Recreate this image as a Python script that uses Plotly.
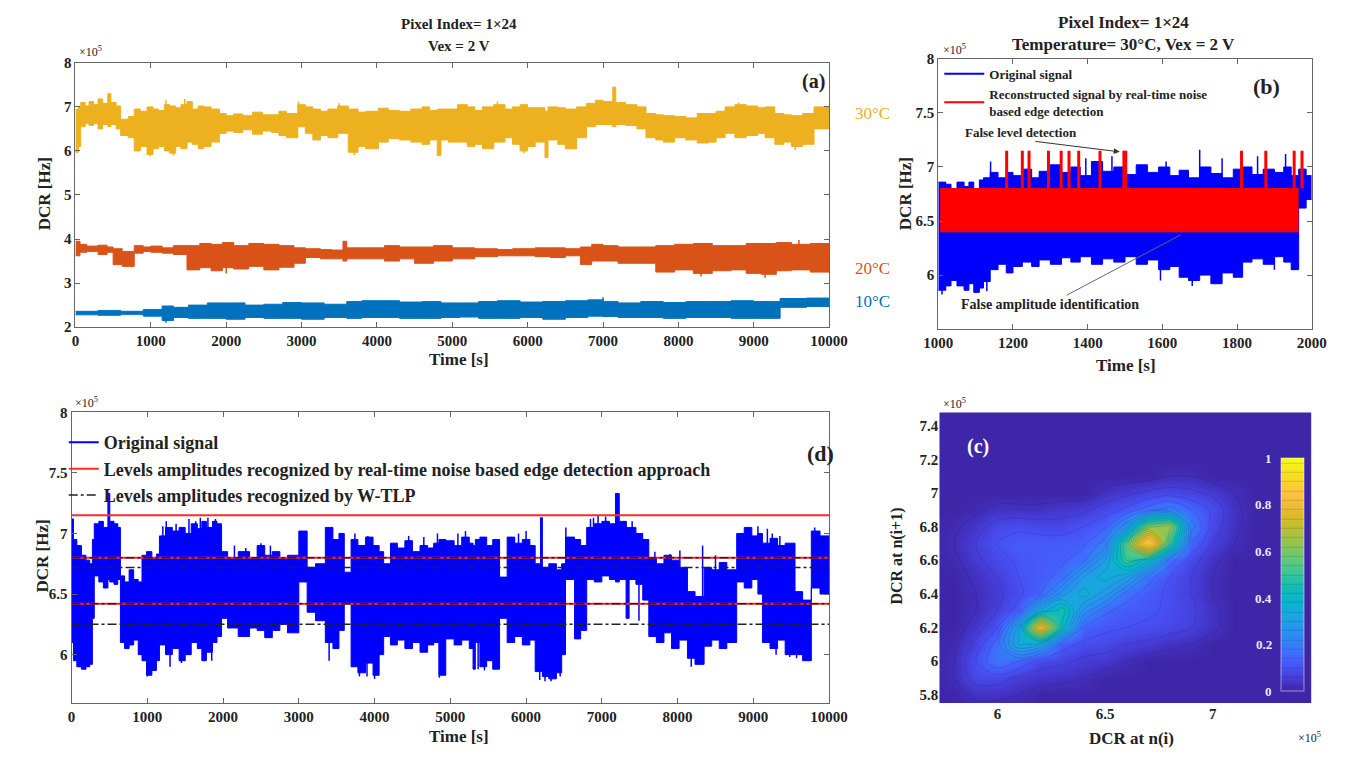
import plotly.graph_objects as go

W, H = 1359, 762
SERIF = "Liberation Serif"

# ---------------------------------------------------------------------------
# Panel (a): DCR vs time for three temperatures (DCR in units of 1e5 Hz).
# Blocks are (start time [s], lower excursion, upper excursion).
# ---------------------------------------------------------------------------
a_30c = [(0, 5.97, 6.94), (40, 6.1, 7.0), (70, 6.55, 7.1), (130, 6.62, 7.02), (180, 6.58, 7.12),
         (240, 6.62, 7.05), (300, 6.5, 7.18), (360, 6.6, 7.08), (430, 6.55, 7.3), (470, 6.6, 7.1),
         (540, 6.5, 7.02), (600, 6.35, 6.72), (700, 6.3, 6.78), (780, 6.0, 6.95), (860, 6.1, 6.9),
         (950, 5.92, 7.0), (1030, 6.05, 6.95), (1100, 6.1, 6.92), (1180, 6.0, 7.05), (1250, 5.95, 7.02),
         (1330, 6.1, 6.98), (1400, 6.05, 7.05), (1480, 6.2, 7.12), (1550, 6.15, 6.95), (1630, 6.05, 7.02),
         (1700, 6.1, 7.0), (1800, 6.2, 6.95), (1910, 6.4, 6.85), (2000, 6.45, 6.8), (2100, 6.42, 6.84),
         (2220, 6.48, 6.8), (2350, 6.38, 6.88), (2480, 6.45, 6.82), (2600, 6.42, 6.82), (2700, 6.35, 6.9),
         (2800, 6.3, 6.85), (2950, 6.55, 7.05), (3050, 6.4, 7.0), (3150, 6.25, 6.95), (3250, 6.35, 6.9),
         (3350, 6.3, 6.95), (3480, 6.4, 7.02), (3620, 5.97, 6.95), (3750, 6.1, 6.88), (3850, 6.05, 6.9),
         (4020, 6.2, 6.97), (4150, 6.28, 6.92), (4300, 6.25, 6.9), (4450, 6.2, 6.95), (4600, 6.15, 7.0),
         (4700, 6.25, 6.92), (4800, 5.9, 6.95), (4850, 6.25, 6.95), (4950, 6.2, 6.95), (5070, 6.2, 7.05),
         (5200, 6.1, 7.0), (5300, 6.15, 6.92), (5400, 6.05, 7.0), (5550, 6.2, 7.05), (5700, 6.3, 6.95),
         (5800, 6.15, 7.0), (5900, 6.0, 7.05), (6000, 6.1, 6.98), (6100, 6.2, 6.98), (6230, 5.85, 6.9),
         (6270, 6.25, 7.0), (6400, 6.15, 6.98), (6500, 6.05, 6.95), (6650, 6.3, 7.0), (6780, 6.55, 7.08),
         (6900, 6.6, 7.15), (7000, 6.6, 7.12), (7130, 6.55, 7.45), (7170, 6.6, 7.1), (7300, 6.58, 7.05),
         (7450, 6.5, 7.0), (7570, 6.3, 6.85), (7700, 6.25, 6.82), (7800, 6.2, 6.8), (7950, 6.3, 6.78),
         (8100, 6.25, 6.75), (8250, 6.18, 6.85), (8400, 6.2, 6.85), (8500, 6.3, 6.9), (8620, 6.4, 7.0),
         (8750, 6.3, 7.05), (8900, 6.35, 7.02), (9050, 6.4, 6.98), (9150, 6.3, 7.0), (9280, 6.15, 6.85),
         (9400, 6.2, 6.82), (9500, 6.1, 6.8), (9650, 6.15, 6.85), (9800, 6.5, 7.0)]
a_30c_spikes = [(990, 5.88), (1200, 7.15), (1300, 5.9), (1450, 7.18), (2960, 7.12), (3500, 7.08),
                (3700, 5.9), (5600, 7.12), (5950, 5.95), (8800, 7.1), (9550, 6.02)]

a_20c = [(0, 3.62, 3.95), (60, 3.7, 3.88), (150, 3.72, 3.84), (300, 3.65, 3.86), (420, 3.7, 3.82),
         (500, 3.42, 3.78), (620, 3.38, 3.72), (780, 3.68, 3.85), (900, 3.72, 3.82), (1000, 3.7, 3.84),
         (1150, 3.68, 3.8), (1300, 3.65, 3.85), (1480, 3.3, 3.85), (1650, 3.35, 3.9), (1800, 3.28, 3.88),
         (1950, 3.35, 3.92), (2100, 3.32, 3.85), (2300, 3.38, 3.9), (2500, 3.3, 3.88), (2700, 3.36, 3.85),
         (2900, 3.45, 3.8), (3050, 3.58, 3.78), (3250, 3.55, 3.76), (3400, 3.55, 3.75), (3550, 3.5, 3.95),
         (3600, 3.55, 3.8), (3800, 3.55, 3.8), (4100, 3.5, 3.85), (4300, 3.55, 3.82), (4500, 3.45, 3.82),
         (4750, 3.5, 3.85), (5000, 3.55, 3.8), (5300, 3.6, 3.78), (5600, 3.62, 3.76), (5800, 3.62, 3.78),
         (6100, 3.6, 3.8), (6300, 3.58, 3.8), (6500, 3.62, 3.78), (6700, 3.42, 3.82), (6850, 3.5, 3.88),
         (7000, 3.5, 3.85), (7200, 3.45, 3.82), (7400, 3.45, 3.82), (7700, 3.25, 3.85), (7950, 3.3, 3.88),
         (8200, 3.22, 3.9), (8450, 3.28, 3.85), (8700, 3.3, 3.85), (8900, 3.22, 3.9), (9100, 3.2, 3.9),
         (9300, 3.28, 3.92), (9500, 3.3, 3.88), (9750, 3.25, 3.9)]
a_20c_spikes = [(2000, 3.22), (8300, 3.15), (9150, 3.12), (9600, 3.98)]

a_10c = [(0, 2.28, 2.36), (300, 2.27, 2.38), (600, 2.29, 2.36), (900, 2.25, 2.4), (1150, 2.15, 2.48),
         (1300, 2.22, 2.45), (1500, 2.2, 2.5), (1750, 2.2, 2.55), (2000, 2.18, 2.55), (2250, 2.22, 2.5),
         (2500, 2.2, 2.52), (2750, 2.2, 2.56), (3000, 2.18, 2.55), (3300, 2.22, 2.52), (3600, 2.2, 2.58),
         (3800, 2.22, 2.6), (4000, 2.22, 2.6), (4300, 2.2, 2.57), (4600, 2.2, 2.58), (4850, 2.22, 2.55),
         (5100, 2.23, 2.55), (5350, 2.2, 2.58), (5600, 2.2, 2.6), (5900, 2.22, 2.57), (6200, 2.18, 2.58),
         (6500, 2.22, 2.6), (6800, 2.25, 2.62), (7000, 2.24, 2.58), (7200, 2.22, 2.55), (7500, 2.22, 2.58),
         (7800, 2.2, 2.56), (8100, 2.22, 2.58), (8400, 2.22, 2.58), (8700, 2.2, 2.6), (9000, 2.2, 2.58),
         (9350, 2.45, 2.65), (9700, 2.47, 2.66)]
a_10c_spikes = [(1200, 2.1), (7000, 2.68)]

# ---------------------------------------------------------------------------
# Panel (b): 1000-2000 s at 30 degC
# ---------------------------------------------------------------------------
b_orig = [(1000, 5.86, 6.86), (1020, 5.9, 6.84), (1034, 5.95, 6.8), (1050, 5.9, 6.86), (1069, 5.86, 6.82),
          (1082, 5.92, 6.86), (1095, 5.84, 6.8), (1110, 5.88, 6.88), (1121, 5.94, 6.9), (1139, 6.05, 6.95),
          (1160, 6.1, 6.9), (1182, 6.02, 6.95), (1200, 6.08, 6.92), (1225, 6.12, 6.98), (1250, 6.08, 6.9),
          (1270, 6.14, 6.96), (1300, 6.1, 7.02), (1330, 6.16, 6.95), (1355, 6.12, 7.0), (1380, 6.17, 6.92),
          (1410, 6.1, 7.05), (1440, 6.15, 6.96), (1470, 6.12, 7.0), (1500, 6.17, 6.93), (1530, 6.1, 7.02),
          (1560, 6.14, 6.95), (1590, 6.05, 7.0), (1620, 6.08, 6.92), (1645, 5.98, 6.97), (1670, 5.95, 6.9),
          (1700, 6.0, 7.0), (1730, 5.92, 6.94), (1760, 6.02, 6.9), (1790, 5.98, 6.98), (1815, 6.12, 7.0),
          (1840, 6.15, 6.93), (1870, 6.1, 6.98), (1900, 6.17, 6.95), (1925, 6.12, 7.0), (1945, 6.05, 6.92),
          (1965, 6.62, 6.98), (1985, 6.7, 6.92)]
b_orig_spikes = [(1010, 5.82), (1130, 5.85), (1140, 7.05), (1395, 7.08), (1465, 7.1), (1595, 5.95),
                 (1610, 7.05), (1680, 5.9), (1700, 7.16), (1760, 7.08), (1855, 7.1), (1900, 6.05),
                 (1930, 7.12)]

# reconstructed two-level signal and the spurious third level it picks up
b_levels = [6.4, 6.8]
b_false_level = 7.15
b_red_span = [1005, 1965]
b_red_spike_t = [1183, 1225, 1243, 1295, 1329, 1350, 1376, 1433, 1497, 1502,
                 1812, 1877, 1953, 1974]

# ---------------------------------------------------------------------------
# Panel (d): full record at 30 degC with recognised level amplitudes
# ---------------------------------------------------------------------------
d_orig = [(0, 6.1, 7.12), (25, 5.95, 6.95), (70, 5.9, 6.9), (130, 5.88, 6.82), (190, 5.9, 6.78),
          (240, 5.92, 6.75), (275, 6.3, 6.95),
          (300, 6.65, 7.08), (360, 6.6, 7.1), (420, 6.55, 7.05), (480, 6.62, 7.33), (505, 6.6, 7.1),
          (560, 6.58, 7.08), (610, 6.62, 7.05),
          (645, 6.1, 6.65), (700, 6.05, 6.6), (760, 6.08, 6.7), (820, 6.12, 6.62), (880, 6.0, 6.6),
          (930, 5.95, 6.82), (990, 5.83, 6.85), (1060, 5.87, 6.8), (1120, 5.95, 6.83),
          (1160, 6.08, 6.98), (1240, 6.0, 7.05), (1330, 6.05, 7.02), (1420, 5.95, 7.05), (1500, 6.0, 7.0),
          (1580, 6.1, 7.08), (1660, 6.05, 7.04), (1720, 5.95, 7.1), (1780, 6.02, 7.05), (1860, 6.1, 7.1),
          (1920, 6.15, 7.08),
          (1980, 6.3, 6.85), (2060, 6.22, 6.8), (2200, 6.15, 6.85), (2350, 6.22, 6.8), (2450, 6.2, 6.9),
          (2550, 6.14, 6.82), (2650, 6.2, 6.85), (2750, 6.25, 6.8), (2850, 6.18, 6.82),
          (3000, 6.6, 7.02), (3110, 6.35, 6.72), (3220, 6.28, 6.75),
          (3350, 6.1, 7.05), (3450, 6.05, 6.95), (3530, 6.2, 7.0), (3600, 6.42, 6.68),
          (3690, 5.9, 6.95), (3780, 5.85, 6.9), (3880, 5.93, 6.97), (3980, 5.83, 6.9), (4060, 6.0, 6.85),
          (4120, 6.15, 6.75),
          (4210, 6.08, 6.92), (4300, 6.12, 6.88), (4400, 6.05, 6.94), (4500, 6.1, 6.85), (4600, 6.02, 6.9),
          (4700, 6.08, 6.88), (4780, 6.1, 6.92), (4850, 5.83, 6.95),
          (4940, 6.13, 6.94), (5050, 6.08, 6.9), (5150, 6.12, 6.97), (5250, 6.05, 6.92), (5300, 5.88, 6.9),
          (5330, 6.1, 6.95),
          (5390, 5.9, 6.97), (5480, 5.95, 6.9), (5560, 5.88, 6.95), (5650, 6.3, 6.64),
          (5750, 6.1, 6.97), (5850, 6.15, 6.92), (5950, 6.08, 6.95), (6050, 6.12, 6.9),
          (6120, 5.86, 6.75), (6190, 5.86, 7.13), (6215, 5.82, 6.72), (6300, 5.8, 6.75), (6400, 5.85, 6.7),
          (6470, 6.0, 6.75),
          (6520, 6.62, 6.97), (6640, 6.13, 6.95), (6720, 6.2, 6.9),
          (6800, 6.62, 7.05), (6900, 6.6, 7.08), (7000, 6.65, 7.1), (7100, 6.62, 7.08), (7180, 6.6, 7.33),
          (7230, 6.62, 7.1), (7320, 6.3, 7.05), (7360, 6.62, 7.05), (7450, 6.58, 7.0), (7540, 6.45, 6.95),
          (7620, 6.15, 6.8), (7720, 6.1, 6.75), (7820, 6.18, 6.82), (7920, 6.05, 6.78), (8020, 6.12, 6.72),
          (8130, 5.97, 6.52), (8230, 5.92, 6.48),
          (8350, 6.07, 6.72), (8450, 6.12, 6.7), (8550, 6.05, 6.76), (8650, 6.1, 6.7),
          (8780, 6.6, 7.0), (8880, 6.55, 7.05), (8980, 6.62, 6.98), (9060, 6.5, 7.0),
          (9120, 6.1, 6.92), (9220, 6.05, 6.96), (9320, 6.12, 6.9), (9420, 6.0, 6.92),
          (9550, 6.0, 6.52), (9650, 5.95, 6.45),
          (9765, 6.55, 7.02), (9880, 6.5, 6.98)]
d_orig_spikes = [(1000, 5.82), (1205, 7.06), (1250, 7.1), (1300, 5.9), (1380, 7.08), (1450, 5.93),
                 (1550, 7.12), (1640, 7.1), (1700, 7.13), (1800, 7.13), (1850, 5.95), (1900, 7.12),
                 (2150, 6.9), (2300, 6.88), (2500, 6.92), (2625, 6.9), (3400, 5.95), (3740, 7.0),
                 (3800, 5.82), (3900, 5.82), (3910, 6.98), (4000, 5.8), (4300, 6.9), (4450, 6.98),
                 (4650, 6.97), (4830, 7.0), (4855, 5.81), (5100, 7.0), (5200, 7.02), (5367, 5.88),
                 (5450, 5.87), (5580, 5.88), (5900, 7.0), (6000, 7.02), (6180, 5.79), (6250, 5.78),
                 (6330, 5.78), (6450, 5.82), (6525, 7.05), (6850, 7.12), (6890, 7.13), (6950, 7.15),
                 (7050, 7.14), (7320, 7.1), (7400, 7.1), (7490, 6.28), (7700, 6.85), (7900, 6.83),
                 (8030, 6.86), (8180, 5.9), (8285, 5.92), (8330, 6.9), (8500, 6.82), (9060, 7.06),
                 (9185, 7.04), (9250, 7.0), (9300, 6.0), (9350, 6.98), (9480, 5.98), (9570, 5.97),
                 (9810, 7.05)]
d_levels_edge = [7.15, 6.8, 6.42]
d_levels_wtlp = [6.8, 6.72, 6.42, 6.25]

# ---------------------------------------------------------------------------
# Panel (c): normalised lag-plot density, DCR(i) vs DCR(i+1), 1e5 Hz units
# ---------------------------------------------------------------------------
c_axis = [5.7, 5.8, 5.9, 6.0, 6.1, 6.2, 6.3, 6.4, 6.5, 6.6, 6.7, 6.8, 6.9, 7.0,
          7.1, 7.2, 7.3, 7.4, 7.5]
c_density = [
    [0, 0, 0, 0, 0, 0, 0, 0, 0, 0, 0, 0, 0, 0, 0, 0, 0, 0, 0],
    [0, 0, 0.03, 0.03, 0.02, 0, 0, 0, 0, 0, 0, 0, 0, 0, 0, 0, 0, 0, 0],
    [0, 0.02, 0.08, 0.08, 0.05, 0.04, 0.03, 0.02, 0, 0, 0, 0, 0, 0, 0, 0, 0, 0, 0],
    [0, 0.02, 0.1, 0.18, 0.14, 0.08, 0.07, 0.05, 0.04, 0.02, 0, 0, 0, 0, 0, 0, 0, 0, 0],
    [0, 0.01, 0.07, 0.16, 0.35, 0.3, 0.12, 0.09, 0.08, 0.06, 0.05, 0.03, 0.02, 0, 0, 0, 0, 0, 0],
    [0, 0, 0.04, 0.1, 0.32, 0.85, 0.4, 0.14, 0.11, 0.1, 0.09, 0.08, 0.06, 0.03, 0, 0, 0, 0, 0],
    [0, 0, 0.02, 0.06, 0.12, 0.35, 0.45, 0.25, 0.15, 0.12, 0.11, 0.09, 0.07, 0.03, 0, 0, 0, 0, 0],
    [0, 0, 0.02, 0.05, 0.09, 0.14, 0.28, 0.36, 0.28, 0.16, 0.12, 0.09, 0.06, 0.02, 0, 0, 0, 0, 0],
    [0, 0, 0.03, 0.06, 0.1, 0.12, 0.16, 0.3, 0.36, 0.3, 0.16, 0.1, 0.06, 0.02, 0, 0, 0, 0, 0],
    [0, 0.01, 0.05, 0.08, 0.11, 0.12, 0.13, 0.17, 0.3, 0.5, 0.4, 0.16, 0.08, 0.03, 0, 0, 0, 0, 0],
    [0, 0.02, 0.06, 0.1, 0.12, 0.12, 0.12, 0.13, 0.2, 0.55, 0.95, 0.5, 0.14, 0.06, 0.02, 0, 0, 0, 0],
    [0, 0.01, 0.04, 0.08, 0.09, 0.08, 0.08, 0.1, 0.13, 0.25, 0.6, 0.65, 0.2, 0.08, 0.03, 0, 0, 0, 0],
    [0, 0, 0.01, 0.03, 0.03, 0.03, 0.04, 0.05, 0.08, 0.11, 0.16, 0.2, 0.14, 0.09, 0.03, 0, 0, 0, 0],
    [0, 0, 0, 0, 0, 0, 0, 0, 0.03, 0.05, 0.07, 0.08, 0.07, 0.05, 0.02, 0, 0, 0, 0],
    [0, 0, 0, 0, 0, 0, 0, 0, 0, 0, 0, 0.02, 0.02, 0, 0, 0, 0, 0, 0],
    [0, 0, 0, 0, 0, 0, 0, 0, 0, 0, 0, 0, 0, 0, 0, 0, 0, 0, 0],
    [0, 0, 0, 0, 0, 0, 0, 0, 0, 0, 0, 0, 0, 0, 0, 0, 0, 0, 0],
    [0, 0, 0, 0, 0, 0, 0, 0, 0, 0, 0, 0, 0, 0, 0, 0, 0, 0, 0],
    [0, 0, 0, 0, 0, 0, 0, 0, 0, 0, 0, 0, 0, 0, 0, 0, 0, 0, 0],
]
c_cbar_ticks = [0, 0.2, 0.4, 0.6, 0.8, 1]

PARULA = [
    [0.00, "rgb(62,38,168)"], [0.05, "rgb(70,59,213)"], [0.10, "rgb(71,81,244)"],
    [0.15, "rgb(66,105,253)"], [0.20, "rgb(50,128,248)"], [0.25, "rgb(41,144,238)"],
    [0.30, "rgb(32,159,229)"], [0.35, "rgb(18,173,217)"], [0.40, "rgb(7,183,198)"],
    [0.45, "rgb(20,190,177)"], [0.50, "rgb(54,197,154)"], [0.55, "rgb(89,201,126)"],
    [0.60, "rgb(124,199,98)"], [0.65, "rgb(158,195,71)"], [0.70, "rgb(190,191,48)"],
    [0.75, "rgb(217,187,38)"], [0.80, "rgb(242,186,59)"], [0.85, "rgb(253,195,56)"],
    [0.90, "rgb(248,215,40)"], [0.95, "rgb(245,232,28)"], [1.00, "rgb(249,251,21)"],
]

C30, C20, C10 = "#EDB120", "#D95319", "#0072BD"
BLUE, RED = "#0000FF", "#FF0000"

fig = go.Figure()


def px(x, y):
    return x / W, 1 - y / H


def add_band(blocks, t_end, color, xa, ya):
    xs = [b[0] for b in blocks] + [t_end]
    ylo = [b[1] for b in blocks] + [blocks[-1][1]]
    yhi = [b[2] for b in blocks] + [blocks[-1][2]]
    fig.add_trace(go.Scatter(x=xs, y=ylo, mode="lines", xaxis=xa, yaxis=ya,
                             line=dict(color=color, width=1, shape="hv"),
                             showlegend=False, hoverinfo="skip"))
    fig.add_trace(go.Scatter(x=xs, y=yhi, mode="lines", xaxis=xa, yaxis=ya,
                             line=dict(color=color, width=1, shape="hv"),
                             fill="tonexty", fillcolor=color,
                             showlegend=False, hoverinfo="skip"))


def band_mid(blocks, t):
    cur = blocks[0]
    for b in blocks:
        if b[0] <= t:
            cur = b
    return (cur[1] + cur[2]) / 2


def add_spikes(blocks, spikes, color, width, xa, ya):
    xs, ys = [], []
    for t, v in spikes:
        xs += [t, t, None]
        ys += [band_mid(blocks, t), v, None]
    fig.add_trace(go.Scatter(x=xs, y=ys, mode="lines", xaxis=xa, yaxis=ya,
                             line=dict(color=color, width=width),
                             showlegend=False, hoverinfo="skip"))


# ---- (a)
add_band(a_30c, 10000, C30, "x", "y")
add_spikes(a_30c, a_30c_spikes, C30, 1.5, "x", "y")
add_band(a_20c, 10000, C20, "x", "y")
add_spikes(a_20c, a_20c_spikes, C20, 1.5, "x", "y")
add_band(a_10c, 10000, C10, "x", "y")
add_spikes(a_10c, a_10c_spikes, C10, 1.5, "x", "y")

# ---- (b)
fig.add_trace(go.Scatter(x=[None], y=[None], mode="lines", xaxis="x2", yaxis="y2",
                         line=dict(color=BLUE, width=2), name="Original signal", legend="legend"))
fig.add_trace(go.Scatter(x=[None], y=[None], mode="lines", xaxis="x2", yaxis="y2",
                         line=dict(color=RED, width=2),
                         name="Reconstructed signal by real-time noise<br>based edge detection",
                         legend="legend"))
add_band(b_orig, 2000, BLUE, "x2", "y2")
add_spikes(b_orig, b_orig_spikes, BLUE, 1.5, "x2", "y2")
fig.add_trace(go.Scatter(x=b_red_span, y=[b_levels[0]] * 2, mode="lines", xaxis="x2", yaxis="y2",
                         line=dict(color=RED, width=1), showlegend=False, hoverinfo="skip"))
fig.add_trace(go.Scatter(x=b_red_span, y=[b_levels[1]] * 2, mode="lines", xaxis="x2", yaxis="y2",
                         line=dict(color=RED, width=1), fill="tonexty", fillcolor=RED,
                         showlegend=False, hoverinfo="skip"))
rx, ry = [], []
for t in b_red_spike_t:
    rx += [t, t, None]
    ry += [b_levels[1], b_false_level, None]
fig.add_trace(go.Scatter(x=rx, y=ry, mode="lines", xaxis="x2", yaxis="y2",
                         line=dict(color=RED, width=3), showlegend=False, hoverinfo="skip"))

# ---- (d)
fig.add_trace(go.Scatter(x=[None], y=[None], mode="lines", xaxis="x3", yaxis="y3",
                         line=dict(color=BLUE, width=2), name="Original signal", legend="legend2"))
add_band(d_orig, 10000, BLUE, "x3", "y3")
add_spikes(d_orig, d_orig_spikes, BLUE, 1.5, "x3", "y3")
lx, ly = [], []
for v in d_levels_edge:
    lx += [0, 10000, None]
    ly += [v, v, None]
fig.add_trace(go.Scatter(x=lx, y=ly, mode="lines", xaxis="x3", yaxis="y3",
                         line=dict(color="#FF2A2A", width=2), legend="legend2",
                         name="Levels amplitudes recognized by real-time noise based edge detection approach"))
wx, wy = [], []
for v in d_levels_wtlp:
    wx += [0, 10000, None]
    wy += [v, v, None]
fig.add_trace(go.Scatter(x=wx, y=wy, mode="lines", xaxis="x3", yaxis="y3",
                         line=dict(color="#222222", width=1.5, dash="dashdot"), legend="legend2",
                         name="Levels amplitudes recognized by W-TLP"))

# ---- (c)
cb_top, cb_bot = 460, 698
fig.add_trace(go.Contour(
    x=c_axis, y=c_axis, z=c_density, xaxis="x4", yaxis="y4",
    colorscale=PARULA, zmin=0, zmax=1,
    contours=dict(coloring="heatmap", start=0.02, end=1.0, size=0.04),
    line=dict(width=0.6, color="rgba(20,20,60,0.25)", smoothing=1.0),
    colorbar=dict(x=1298 / W, xanchor="left", xpad=0, ypad=0, thickness=23,
                  len=(cb_bot - cb_top) / H, lenmode="fraction",
                  y=1 - (cb_top + cb_bot) / 2 / H, yanchor="middle",
                  showticklabels=False, ticks="", outlinewidth=1,
                  outlinecolor="rgba(255,255,255,0.5)"),
    hoverinfo="skip"))

# ---- axes
tickfont = dict(family=SERIF, size=15, color="#222", weight="bold")
box = dict(showline=True, linecolor="#666", linewidth=1, mirror="allticks",
           ticks="inside", ticklen=5, tickcolor="#666", showgrid=False, zeroline=False,
           tickfont=tickfont)
time_ticks = list(range(0, 10001, 1000))

fig.update_layout(
    xaxis=dict(domain=[62 / W, 835 / W], anchor="y", range=[0, 10000], tickvals=time_ticks,
               ticktext=[str(v) for v in time_ticks], **box),
    yaxis=dict(domain=[1 - 326 / H, 1 - 56 / H], anchor="x", range=[2, 8], tickvals=list(range(2, 9)), **box),
    xaxis2=dict(domain=[947 / W, 1330 / W], anchor="y2", range=[1000, 2000],
                tickvals=list(range(1000, 2001, 200)), **box),
    yaxis2=dict(domain=[1 - 328 / H, 1 - 52 / H], anchor="x2", range=[5.5, 8],
                tickvals=[6, 6.5, 7, 7.5, 8], ticktext=["6", "6.5", "7", "7.5", "8"], **box),
    xaxis3=dict(domain=[58 / W, 835 / W], anchor="y3", range=[0, 10000], tickvals=time_ticks,
                ticktext=[str(v) for v in time_ticks], **box),
    yaxis3=dict(domain=[1 - 710 / H, 1 - 413 / H], anchor="x3", range=[5.6, 8],
                tickvals=[6, 6.5, 7, 7.5, 8], ticktext=["6", "6.5", "7", "7.5", "8"], **box),
    xaxis4=dict(domain=[948 / W, 1330 / W], anchor="y4", range=[5.73, 7.46],
                tickvals=[6, 6.5, 7], ticktext=["6", "6.5", "7"], showgrid=False, zeroline=False,
                showline=False, ticks="", tickfont=tickfont),
    yaxis4=dict(domain=[1 - 710 / H, 1 - 413 / H], anchor="x4", range=[5.75, 7.48],
                tickvals=[5.8, 6, 6.2, 6.4, 6.6, 6.8, 7, 7.2, 7.4],
                ticktext=["5.8", "6", "6.2", "6.4", "6.6", "6.8", "7", "7.2", "7.4"],
                showgrid=False, zeroline=False, showline=False, ticks="", tickfont=tickfont),
)

fig.update_layout(
    width=W, height=H, margin=dict(l=0, r=0, t=0, b=0),
    paper_bgcolor="white", plot_bgcolor="white",
    legend=dict(x=948 / W, y=1 - 52 / H, xanchor="left", yanchor="top", traceorder="normal",
                bgcolor="rgba(255,255,255,0)", borderwidth=0, itemwidth=40,
                font=dict(family=SERIF, size=13, color="#222", weight="bold"),
                tracegroupgap=0),
    legend2=dict(x=50 / W, y=1 - 425 / H, xanchor="left", yanchor="top", traceorder="normal",
                 bgcolor="rgba(255,255,255,0)", borderwidth=0, itemwidth=30,
                 font=dict(family=SERIF, size=18, color="#222", weight="bold")),
)

# ---- text
anns = []


def text(x, y, s, size=13, color="#222", bold=True, angle=0, xanchor="center", yanchor="middle"):
    ax, ay = px(x, y)
    anns.append(dict(x=ax, y=ay, xref="paper", yref="paper", text=s, showarrow=False,
                     textangle=angle, xanchor=xanchor, yanchor=yanchor,
                     font=dict(family=SERIF, size=size, color=color,
                               weight="bold" if bold else "normal")))


text(455, 16, "Pixel Index= 1×24", 15)
text(455, 39, "Vex = 2 V", 15)
text(1137, 15, "Pixel Index= 1×24", 17)
text(1137, 37, "Temperature= 30°C, Vex = 2 V", 17)

text(64, 44, "×10<sup>5</sup>", 12, bold=False, xanchor="left")
text(950, 42, "×10<sup>5</sup>", 12, bold=False, xanchor="left")
text(60, 403, "×10<sup>5</sup>", 12, bold=False, xanchor="left")
text(950, 404, "×10<sup>5</sup>", 12, bold=False, xanchor="left")
text(1342, 745, "×10<sup>5</sup>", 12, bold=False, xanchor="right")

text(30, 190, "DCR [Hz]", 17, angle=-90)
text(913, 190, "DCR [Hz]", 17, angle=-90)
text(28, 560, "DCR [Hz]", 17, angle=-90)
text(905, 560, "DCR at n(i+1)", 16, angle=-90)

text(455, 359, "Time [s]", 17)
text(1140, 365, "Time [s]", 17)
text(455, 744, "Time [s]", 17)
text(1145, 746, "DCR at n(i)", 17)

text(819, 75, "(a)", 20)
text(1284, 80, "(b)", 22)
text(826, 455, "(d)", 22)
text(988, 448, "(c)", 20, color="white")

text(880, 108, "30°C", 17, color=C30, bold=False)
text(880, 266, "20°C", 17, color=C20, bold=False)
text(880, 300, "10°C", 17, color=C10, bold=False)

for v in c_cbar_ticks:
    yy = cb_bot - v * (cb_bot - cb_top)
    text(1291, yy, f"{v:g}", 13, color="rgba(255,255,255,0.92)", xanchor="right")

# (b) callouts
anns.append(dict(x=1486, y=7.14, xref="x2", yref="y2", ax=1065, ay=7.32, axref="x2", ayref="y2",
                 text="False level detection", showarrow=True, arrowhead=2, arrowsize=1.2,
                 arrowwidth=1, arrowcolor="#333", xanchor="left",
                 font=dict(family=SERIF, size=13, color="#222", weight="bold")))
anns.append(dict(x=1648, y=6.37, xref="x2", yref="y2", ax=1298, ay=5.73, axref="x2", ayref="y2",
                 text="False amplitude identification", showarrow=True, arrowhead=0,
                 arrowwidth=1, arrowcolor="#666",
                 font=dict(family=SERIF, size=14, color="#222", weight="bold")))

fig.update_layout(annotations=anns)
fig.write_html("out.html")
